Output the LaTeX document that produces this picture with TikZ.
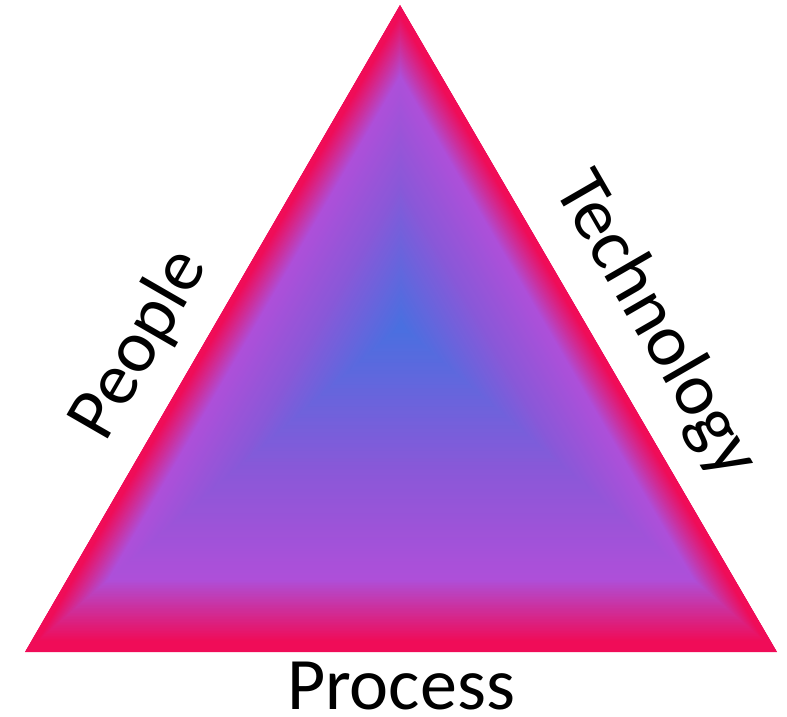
\documentclass[tikz,border=0pt]{standalone}
\usepackage{fontspec}
\setmainfont{Carlito}
\usetikzlibrary{calc}

\definecolor{edgepink}{HTML}{F00C58}
\definecolor{bandpurple}{HTML}{AE4FD9}
\definecolor{midviolet}{HTML}{8A58D8}
\definecolor{coreblue}{HTML}{4870E0}

% Fill nested copies of the triangle, shrunk towards (C),
% blending from colour #3 at scale #1 to colour #4 at scale #2.
\newcommand\glowband[4]{%
  \foreach \k in {0,...,39}{%
    \pgfmathsetmacro\sc{#1+(#2-#1)*\k/40}%
    \pgfmathsetmacro\pc{100*\k/40}%
    \fill[#4!\pc!#3] ($(C)!\sc!(A)$) -- ($(C)!\sc!(B)$) -- ($(C)!\sc!(D)$) -- cycle;
  }}

\tikzset{
  sidelabel/.style={font=\fontsize{74}{74}\selectfont, text=black, inner sep=0pt}
}

\begin{document}
\begin{tikzpicture}[x=1pt,y=-1pt]
  \useasboundingbox (0,0) rectangle (787,717);

  % triangle corners and the centre of the glow
  \coordinate (A) at (400,5);
  \coordinate (B) at (25,652);
  \coordinate (D) at (777,652);
  \coordinate (C) at (401,326);

  \glowband{1.00}{0.97}{edgepink}{edgepink}
  \glowband{0.97}{0.78}{edgepink}{bandpurple}
  \glowband{0.78}{0.45}{bandpurple}{midviolet}
  \glowband{0.45}{0.00}{midviolet}{coreblue}

  \node[sidelabel, rotate=60] (people) at (140,345) {People};
  \node[sidelabel, rotate=-60] (tech) at (655,325) {Technology};
  \node[sidelabel, anchor=base] (process) at (401,709) {Process};
\end{tikzpicture}
\end{document}
